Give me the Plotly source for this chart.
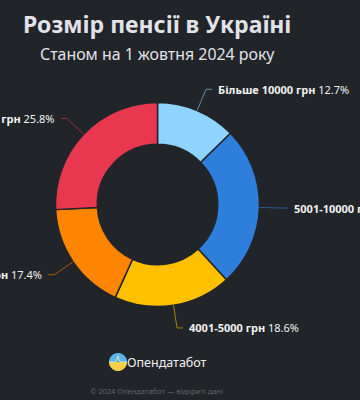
import math
import plotly.graph_objects as go

categories = ["Більше 10000 грн", "5001-10000 грн", "4001-5000 грн", "3001-4000 грн", "До 3000 грн"]
values = [12.7, 25.5, 18.6, 17.4, 25.8]
colors = ["#8FD3FF", "#2E7FDB", "#FFC000", "#FF8500", "#E8384F"]
title_text = "Розмір пенсії в Україні"
subtitle_text = "Станом на 1 жовтня 2024 року"
brand_text = "Опендатабот"
footer_text = "© 2024 Опендатабот — відкриті дані"

W, H = 360, 400
BG = "#212429"
FONT = "Noto Sans"
CX, CY, R = 157.5, 204.5, 102
R_ELBOW, ELBOW_RUN, LABEL_GAP = 125, 6, 4


def px(x):
    return x / W


def py(y):
    return 1 - y / H


fig = go.Figure(go.Pie(
    labels=categories, values=values, sort=False, direction="clockwise", rotation=0,
    hole=0.59, textinfo="none", hoverinfo="label+percent", showlegend=False,
    marker=dict(colors=colors, line=dict(color=BG, width=1.5)),
    domain=dict(x=[px(CX - R), px(CX + R)], y=[py(CY + R), py(CY - R)]),
))

shapes, annotations = [], []
total = sum(values)
running = 0
for cat, val, col in zip(categories, values, colors):
    a = 2 * math.pi * (running + val / 2) / total
    running += val
    s, c = math.sin(a), math.cos(a)
    x0, y0 = CX + R * s, CY - R * c
    x1, y1 = CX + R_ELBOW * s, CY - R_ELBOW * c
    side = 1 if s >= 0 else -1
    x2 = x1 + side * ELBOW_RUN
    shapes.append(dict(type="path", xref="paper", yref="paper",
                       path=f"M{px(x0)},{py(y0)} L{px(x1)},{py(y1)} L{px(x2)},{py(y1)}",
                       line=dict(color=col, width=1), opacity=0.6))
    annotations.append(dict(
        xref="paper", yref="paper", x=px(x2 + side * LABEL_GAP), y=py(y1),
        xanchor="left" if side > 0 else "right", yanchor="middle", showarrow=False,
        text=f"<b>{cat}</b> {val}%", font=dict(family=FONT, size=11, color="#F2F2F2")))

for text, x, y, size, color, bold in [
    (title_text, 157, 24, 23, "#E2E2EA", True),
    (subtitle_text, 157, 54, 15.9, "#E2E2EA", False),
    (brand_text, 167, 362, 12.5, "#F0F0F0", False),
    (footer_text, 156.5, 391, 7.5, "#63666B", False),
]:
    annotations.append(dict(
        xref="paper", yref="paper", x=px(x), y=py(y), xanchor="center", yanchor="middle",
        showarrow=False, text=f"<b>{text}</b>" if bold else text,
        font=dict(family=FONT, size=size, color=color)))

# Logo: a round badge, blue above and yellow below, with a small pulse in the middle
LX, LY, LR = 118, 362, 9
shapes.append(dict(type="path", xref="paper", yref="paper", line=dict(width=0), fillcolor="#5DB3E8",
                   path=" ".join(["M%f,%f" % (px(LX - LR), py(LY))] +
                                 ["L%f,%f" % (px(LX - LR * math.cos(math.pi * i / 24)),
                                              py(LY - LR * math.sin(math.pi * i / 24))) for i in range(25)] + ["Z"])))
shapes.append(dict(type="path", xref="paper", yref="paper", line=dict(width=0), fillcolor="#F5CF4A",
                   path=" ".join(["M%f,%f" % (px(LX - LR), py(LY))] +
                                 ["L%f,%f" % (px(LX - LR * math.cos(math.pi * i / 24)),
                                              py(LY + LR * math.sin(math.pi * i / 24))) for i in range(25)] + ["Z"])))
shapes.append(dict(type="path", xref="paper", yref="paper", line=dict(color="#CFE6C8", width=1),
                   path=f"M{px(LX-LR)},{py(LY)} L{px(LX-3)},{py(LY)} L{px(LX-1)},{py(LY-3)} "
                        f"L{px(LX)},{py(LY-6)} L{px(LX+1)},{py(LY-2)} L{px(LX+3)},{py(LY)} L{px(LX+LR)},{py(LY)}"))

fig.update_layout(width=W, height=H, margin=dict(l=0, r=0, t=0, b=0), paper_bgcolor=BG, plot_bgcolor=BG,
                  shapes=shapes, annotations=annotations, showlegend=False)
fig.write_html("out.html", config=dict(displayModeBar=False),
               post_script="document.body.style.margin='0';document.body.style.background='%s';document.body.style.overflow='hidden';" % BG)
